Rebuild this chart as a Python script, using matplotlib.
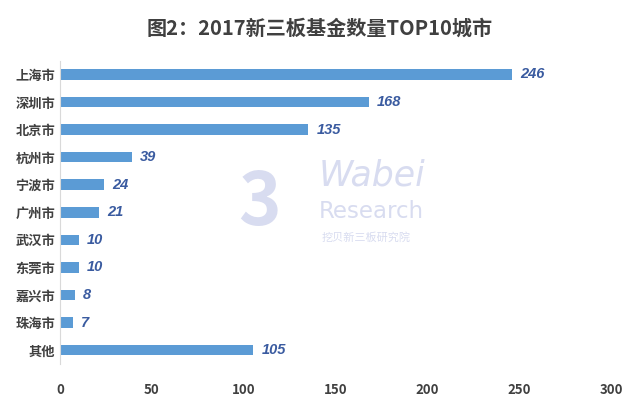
import matplotlib.pyplot as plt

plt.rcParams['font.family'] = ['Noto Sans CJK SC', 'DejaVu Sans']

cities = ['上海市', '深圳市', '北京市', '杭州市', '宁波市', '广州市',
          '武汉市', '东莞市', '嘉兴市', '珠海市', '其他']
counts = [246, 168, 135, 39, 24, 21, 10, 10, 8, 7, 105]
xticks = [0, 50, 100, 150, 200, 250, 300]

fig = plt.figure(figsize=(6.4, 3.99), dpi=100)
ax = fig.add_axes([0.094, 0.088, 0.861, 0.76])

ypos = list(range(len(cities)))[::-1]
ax.barh(ypos, counts, height=0.38, color='#5B9BD5', zorder=2)
for y, v in zip(ypos, counts):
    ax.text(v + 4.5, y, str(v), va='center', ha='left', fontsize=10.5,
            fontweight='bold', style='italic', color='#3A5BA0', zorder=3,
            family='Liberation Sans')

ax.set_xlim(0, 300)
ax.set_ylim(-0.5, len(cities) - 0.5)
ax.set_xticks(xticks)
ax.set_yticks(ypos)
ax.set_yticklabels(cities)
ax.tick_params(axis='both', length=0, labelsize=9.5, colors='#404040')
ax.tick_params(axis='x', pad=14)
for lab in ax.get_xticklabels() + ax.get_yticklabels():
    lab.set_fontweight('bold')
for s in ['top', 'right', 'bottom']:
    ax.spines[s].set_visible(False)
ax.spines['left'].set_color('#D9D9D9')

fig.suptitle('图2：2017新三板基金数量TOP10城市', x=0.5, y=0.955,
             fontsize=14.5, fontweight='bold', color='#404040')

# watermark
wm = '#D8DCF0'
fig.text(0.405, 0.49, '3', fontsize=52, fontweight='bold', color=wm,
         ha='center', va='center', zorder=0)
fig.text(0.498, 0.56, 'Wabei', fontsize=25, style='italic', color=wm,
         ha='left', va='center', family='DejaVu Sans', zorder=0)
fig.text(0.498, 0.47, 'Research', fontsize=16.5, color=wm,
         ha='left', va='center', family='DejaVu Sans', zorder=0)
fig.text(0.502, 0.405, '挖贝新三板研究院', fontsize=8, color=wm,
         ha='left', va='center', zorder=0)

fig.savefig('out.png', dpi=100)
